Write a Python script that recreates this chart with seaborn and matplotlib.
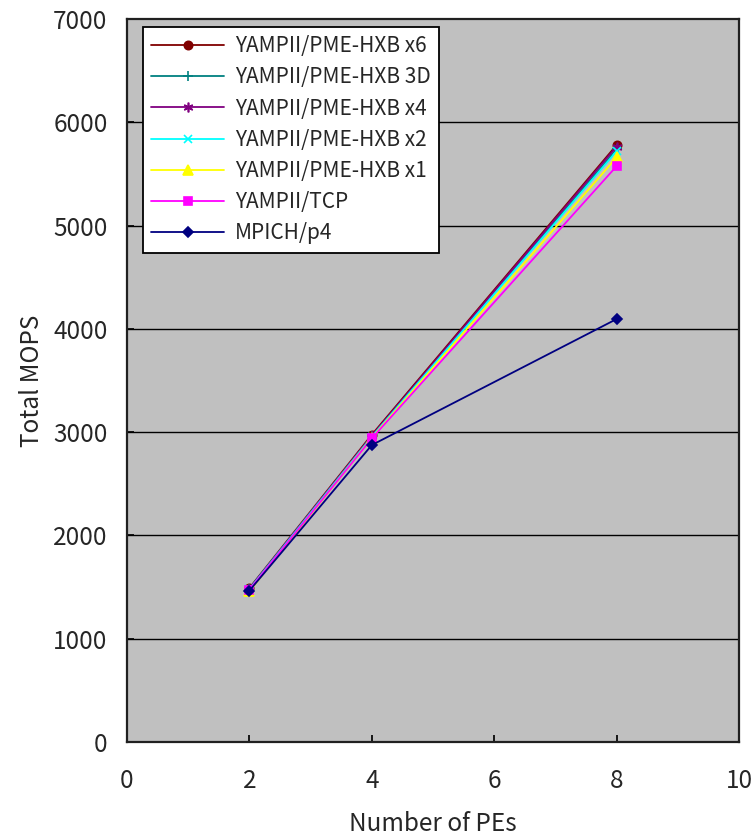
import matplotlib
matplotlib.use("Agg")
import matplotlib.pyplot as plt
import seaborn as sns
import pandas as pd

pes = [2, 4, 8]
series_names = ["YAMPII/PME-HXB x6", "YAMPII/PME-HXB 3D", "YAMPII/PME-HXB x4",
                "YAMPII/PME-HXB x2", "YAMPII/PME-HXB x1", "YAMPII/TCP", "MPICH/p4"]
x6 = [1490, 2975, 5780]
d3 = [1485, 2960, 5740]
x4 = [1485, 2965, 5765]
x2 = [1480, 2955, 5720]
x1 = [1458, 2945, 5660]
tcp = [1475, 2940, 5575]
mpich = [1465, 2875, 4095]
values = [x6, d3, x4, x2, x1, tcp, mpich]

colors = ["#800000", "#008080", "#800080", "#00FFFF", "#FFFF00", "#FF00FF", "#000080"]
markers = ["o", "+", (6, 2, 0), "x", "^", "s", "D"]
msizes = [6, 7, 7, 6, 7, 6, 5]

rows = []
for name, vals in zip(series_names, values):
    for p, v in zip(pes, vals):
        rows.append({"PEs": p, "MOPS": v, "series": name})
df = pd.DataFrame(rows)

sns.set_theme(style="white")
plt.rcParams['font.family'] = ['Noto Sans CJK JP', 'DejaVu Sans']

fig = plt.figure(figsize=(7.53, 8.36), dpi=100)
ax = fig.add_axes([127/753, 1 - 742/836, (739-127)/753, (742-19)/836])
ax.set_facecolor("#C0C0C0")

for name, c, m, ms in zip(series_names, colors, markers, msizes):
    sub = df[df["series"] == name]
    sns.lineplot(data=sub, x="PEs", y="MOPS", ax=ax, color=c, marker=m,
                 markersize=ms, markeredgecolor=c, markerfacecolor=c,
                 linewidth=1.3, label=name, markeredgewidth=1.2)

ax.set_xlim(0, 10)
ax.set_ylim(0, 7000)
ax.set_xticks([0, 2, 4, 6, 8, 10])
ax.set_yticks(range(0, 7001, 1000))
for y in range(1000, 7000, 1000):
    ax.axhline(y, color="black", linewidth=1, zorder=0.5)
for s in ax.spines.values():
    s.set_color("#202020")
    s.set_linewidth(1.6)
ax.tick_params(axis="x", labelsize=17.5, length=5, direction="in", color="black",
               bottom=True, pad=19)
ax.tick_params(axis="y", labelsize=17.5, length=5, direction="in", color="black",
               left=True, pad=14)
ax.set_xlabel("Number of PEs", fontsize=17.5, labelpad=12)
ax.set_ylabel("Total MOPS", fontsize=17.5, labelpad=6)

leg = ax.legend(loc="upper left", bbox_to_anchor=(16/612, 1 - 8/723), fontsize=15,
                frameon=True, fancybox=False, framealpha=1, edgecolor="black",
                handlelength=3.5, handletextpad=0.5, labelspacing=0.44,
                borderpad=0.4, borderaxespad=0)
leg.get_frame().set_linewidth(1.3)

fig.savefig("out.png", dpi=100, facecolor="white")
